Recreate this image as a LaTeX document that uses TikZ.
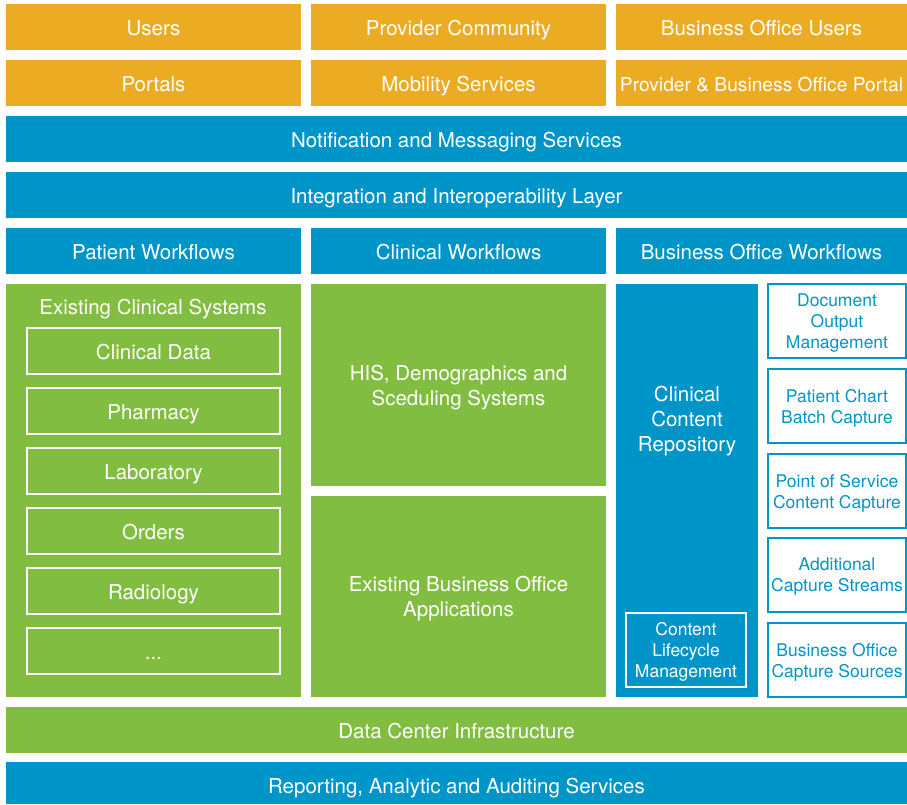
\documentclass[tikz,border=0pt]{standalone}
\usepackage{fontspec}
\setmainfont{TeX Gyre Heros}
\definecolor{layerorange}{HTML}{EBAB22}
\definecolor{layerblue}{HTML}{0095C8}
\definecolor{layergreen}{HTML}{80BD41}
\tikzset{
  layer/.style={anchor=north west, inner sep=0pt, outer sep=0pt, align=center,
    text=white, text depth=0pt, font=\fontsize{20.5}{25}\selectfont},
  oneline/.style={text height=16pt},
  orangebox/.style={layer, oneline, fill=layerorange},
  bluebox/.style={layer, fill=layerblue},
  greenbox/.style={layer, fill=layergreen},
  colbox/.style={oneline, minimum width=295pt, minimum height=46pt},
  barbox/.style={oneline, minimum width=901pt, minimum height=46pt},
  systembox/.style={layer, oneline, draw=white, line width=1.5pt, minimum width=253pt, minimum height=46pt},
  capturebox/.style={layer, draw=layerblue, fill=white, text=layerblue, line width=1.5pt,
    minimum width=138pt, minimum height=74pt, font=\fontsize{17.5}{21}\selectfont}
}
\begin{document}
\begin{tikzpicture}[x=1pt, y=-1pt]
    \useasboundingbox (0,0) rectangle (907,804);
    % Usuarios e portais
    \node[orangebox, colbox] (users) at (6,4) {Users};
    \node[orangebox, colbox] (community) at (311,4) {Provider Community};
    \node[orangebox, colbox, minimum width=291pt] (officeusers) at (616,4) {Business Office Users};
    \node[orangebox, colbox] (portals) at (6,60) {Portals};
    \node[orangebox, colbox] (mobility) at (311,60) {Mobility Services};
    \node[orangebox, colbox, minimum width=291pt, font=\fontsize{19.2}{25}\selectfont] (officeportal) at (616,60) {Provider \& Business Office Portal};
    % Camadas de servico
    \node[bluebox, barbox] (messaging) at (6,116) {Notification and Messaging Services};
    \node[bluebox, barbox] (integration) at (6,172) {Integration and Interoperability Layer};
    \node[bluebox, colbox] (patientflow) at (6,228) {Patient Workflows};
    \node[bluebox, colbox] (clinicalflow) at (311,228) {Clinical Workflows};
    \node[bluebox, colbox, minimum width=291pt] (officeflow) at (616,228) {Business Office Workflows};
    % Sistemas clinicos existentes
    \node[greenbox, minimum width=295pt, minimum height=413pt] (clinicalsys) at (6,284) {};
    \node[layer, oneline, anchor=center] (clinicaltitle) at (153,306) {Existing Clinical Systems};
    \node[systembox] (data) at (27,328) {Clinical Data};
    \node[systembox] (pharmacy) at (27,388) {Pharmacy};
    \node[systembox] (laboratory) at (27,448) {Laboratory};
    \node[systembox] (orders) at (27,508) {Orders};
    \node[systembox] (radiology) at (27,568) {Radiology};
    \node[systembox] (more) at (27,628) {...};
    % Aplicacoes
    \node[greenbox, minimum width=295pt, minimum height=202pt] (his) at (311,284) {HIS, Demographics and\\Sceduling Systems};
    \node[greenbox, minimum width=295pt, minimum height=201pt] (officeapps) at (311,496) {Existing Business Office\\Applications};
    % Repositorio de conteudo
    \node[bluebox, minimum width=142pt, minimum height=413pt] (repository) at (616,284) {};
    \node[layer, anchor=center] (repotitle) at (687,419) {Clinical\\Content\\Repository};
    \node[layer, draw=white, line width=1.5pt, minimum width=120pt, minimum height=74pt,
      font=\fontsize{17.5}{21}\selectfont] (lifecycle) at (626,613) {Content\\Lifecycle\\Management};
    % Fontes de captura
    \node[capturebox] (output) at (768,284) {Document\\Output\\Management};
    \node[capturebox] (chart) at (768,369) {Patient Chart\\Batch Capture};
    \node[capturebox] (service) at (768,454) {Point of Service\\Content Capture};
    \node[capturebox] (streams) at (768,538) {Additional\\Capture Streams};
    \node[capturebox] (sources) at (768,623) {Business Office\\Capture Sources};
    % Infraestrutura
    \node[greenbox, barbox] (datacenter) at (6,707) {Data Center Infrastructure};
    \node[bluebox, barbox, minimum height=42pt, text height=21pt] (reporting) at (6,762) {Reporting, Analytic and Auditing Services};
\end{tikzpicture}
\end{document}
